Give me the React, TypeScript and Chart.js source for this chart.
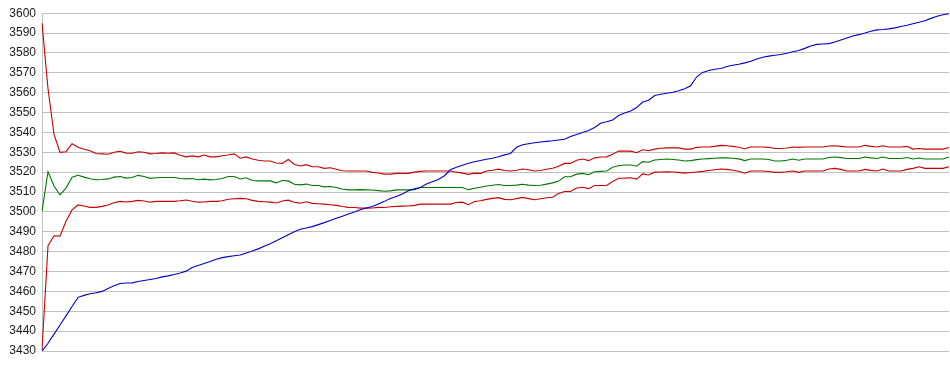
import React, { useEffect, useRef } from "react";
import { Chart, registerables } from "chart.js";

Chart.register(...registerables);

// Rising series (blue)
const risingLine: number[] = [
  3430, 3433.9, 3438.5, 3443.1, 3447.7, 3452.4, 3457, 3458, 3458.8, 3459.3,
  3460, 3461.5, 3462.8, 3464, 3464.2, 3464.3, 3465, 3465.5, 3466, 3466.5,
  3467.3, 3467.8, 3468.5, 3469.3, 3470.2, 3472, 3473, 3474, 3475, 3476.2,
  3477, 3477.5, 3477.9, 3478.3, 3479.3, 3480.3, 3481.4, 3482.7, 3484, 3485.5,
  3487, 3488.5, 3490, 3491.3, 3491.9, 3492.6, 3493.6, 3494.6, 3495.7, 3496.8,
  3497.8, 3499, 3500, 3501.1, 3502, 3502.7, 3504, 3505.3, 3506.8, 3507.8,
  3509, 3510.6, 3511.6, 3512.3, 3514, 3515.2, 3516.3, 3518.2, 3521.2, 3522.5,
  3523.5, 3524.5, 3525.2, 3525.9, 3526.5, 3527, 3527.8, 3528.7, 3529.4, 3532.5,
  3533.8, 3534.3, 3534.8, 3535.2, 3535.5, 3535.8, 3536.2, 3536.6, 3538, 3539,
  3540, 3541, 3542.5, 3544.6, 3545.4, 3546.3, 3548.5, 3549.8, 3550.8, 3552.5,
  3555.3, 3556.2, 3558.6, 3559.2, 3559.7, 3560.2, 3561, 3562, 3563.5, 3568,
  3570.2, 3571.2, 3571.8, 3572.2, 3573.2, 3573.8, 3574.3, 3575, 3575.8, 3577,
  3577.8, 3578.4, 3578.8, 3579.2, 3579.8, 3580.6, 3581.2, 3582.3, 3583.5, 3584.3,
  3584.5, 3584.7, 3585.5, 3586.5, 3587.5, 3588.5, 3589.2, 3590, 3590.9, 3591.6,
  3591.8, 3592.1, 3592.6, 3593.3, 3593.9, 3594.7, 3595.4, 3596.2, 3597.4, 3598.5,
  3599.2, 3599.8,
];

// Upper band (red)
const upperBand: number[] = [
  3595, 3562, 3539, 3530, 3530.3, 3534.3, 3532.5, 3531.5, 3530.8, 3529.4,
  3529.2, 3529, 3530, 3530.5, 3529.6, 3529.5, 3530.3, 3530, 3529.2, 3529.4,
  3529.7, 3529.5, 3529.7, 3528.5, 3527.7, 3528.2, 3527.7, 3528.6, 3527.7, 3527.7,
  3528.3, 3528.6, 3529.2, 3527, 3527.7, 3526.6, 3526, 3525.6, 3525.6, 3524.6,
  3524.4, 3526.4, 3524, 3523.1, 3523.8, 3522.7, 3522.7, 3521.9, 3522.2, 3521.5,
  3520.7, 3520.6, 3520.6, 3520.6, 3520.6, 3519.9, 3519.6, 3519, 3519, 3519.4,
  3519.4, 3519.4, 3520, 3520.4, 3520.6, 3520.6, 3520.6, 3520.6, 3520.6, 3520,
  3519.5, 3518.9, 3519.5, 3519.4, 3520.6, 3521, 3521.5, 3520.8, 3520.6, 3521,
  3521.6, 3521.2, 3520.6, 3520.8, 3521.5, 3522, 3523, 3524.4, 3524.4, 3526,
  3526.6, 3525.8, 3527.2, 3527.6, 3527.7, 3529, 3530.6, 3530.6, 3530.6, 3529.8,
  3531.3, 3530.8, 3531.6, 3532, 3532.2, 3532.2, 3532.2, 3531.6, 3531.6, 3532.5,
  3532.7, 3532.7, 3533, 3533.5, 3533.3, 3533, 3532.5, 3531.8, 3532.7, 3532.7,
  3532.7, 3532.5, 3531.9, 3531.9, 3532.2, 3532.7, 3532.5, 3532.7, 3532.7, 3532.7,
  3532.7, 3533.2, 3533.3, 3533, 3532.7, 3532.7, 3532.7, 3533.5, 3533, 3532.7,
  3533.3, 3532.7, 3532.7, 3532.7, 3533, 3531.6, 3531.9, 3531.6, 3531.6, 3531.6,
  3531.6, 3532.4,
];

// Middle line (green)
const middleLine: number[] = [
  3500.3, 3520.2, 3513, 3508.6, 3512, 3517.5, 3518.4, 3517.5, 3516.7, 3516.2,
  3516.3, 3516.6, 3517.5, 3517.8, 3517, 3517.3, 3518.4, 3517.8, 3516.9, 3517.2,
  3517.3, 3517.3, 3517.3, 3516.8, 3516.6, 3516.8, 3516.2, 3516.5, 3516.1, 3516.3,
  3516.8, 3517.8, 3517.8, 3516.6, 3517.2, 3515.8, 3515.6, 3515.6, 3515.6, 3514.6,
  3515.8, 3515.6, 3513.9, 3513.6, 3514, 3513.3, 3513.3, 3512.6, 3512.8, 3512.3,
  3511.5, 3511.1, 3511.1, 3511.2, 3511.1, 3511, 3510.7, 3510.4, 3510.6, 3511.1,
  3511.1, 3511.1, 3511.2, 3512.3, 3512.3, 3512.3, 3512.3, 3512.3, 3512.3, 3512.3,
  3512.3, 3511.2, 3511.9, 3512.4, 3513, 3513.4, 3513.8, 3513.3, 3513.3, 3513.5,
  3513.9, 3513.5, 3513.3, 3513.4, 3514, 3514.6, 3515.5, 3517.7, 3517.7, 3519,
  3519.4, 3518.7, 3520.2, 3520.4, 3520.6, 3522.5, 3523.2, 3523.6, 3523.6, 3523,
  3525.3, 3525, 3526.1, 3526.4, 3526.6, 3526.4, 3526.1, 3525.6, 3525.8, 3526.3,
  3526.6, 3526.8, 3527, 3527.2, 3527.2, 3527, 3526.7, 3525.8, 3526.6, 3526.6,
  3526.6, 3526.4, 3525.6, 3525.6, 3526, 3526.6, 3526, 3526.6, 3526.6, 3526.6,
  3526.6, 3527.4, 3527.6, 3527.3, 3526.9, 3526.9, 3526.9, 3527.6, 3527.2, 3526.9,
  3527.6, 3526.9, 3526.9, 3526.9, 3527.4, 3526.6, 3527.1, 3526.6, 3526.6, 3526.6,
  3526.6, 3527.6,
];

// Lower band (red)
const lowerBand: number[] = [
  3430.5, 3483, 3488, 3487.8, 3495.3, 3501, 3503.5, 3503, 3502.3, 3502.3,
  3502.8, 3503.5, 3504.6, 3505.3, 3505, 3505.3, 3505.8, 3505.5, 3504.9, 3505.3,
  3505.3, 3505.3, 3505.3, 3505.6, 3506, 3505.4, 3504.9, 3505, 3505.3, 3505.3,
  3505.6, 3506.4, 3506.6, 3506.8, 3506.6, 3505.8, 3505.3, 3505.1, 3504.9, 3504.5,
  3505.5, 3505.9, 3504.9, 3504.4, 3505.1, 3504.3, 3504.1, 3503.9, 3503.6, 3503.3,
  3502.7, 3502.3, 3502.2, 3501.9, 3501.9, 3502, 3502.3, 3502.2, 3502.6, 3502.8,
  3502.9, 3503, 3503.3, 3503.9, 3503.9, 3503.9, 3503.9, 3503.9, 3503.9, 3504.7,
  3504.9, 3503.6, 3505.2, 3505.6, 3506.3, 3506.8, 3507.2, 3506.3, 3506.1, 3506.7,
  3507.3, 3506.7, 3506.1, 3506.6, 3507.1, 3507.4, 3509.3, 3510.3, 3510.3, 3512,
  3512.4, 3511.7, 3513.3, 3513.3, 3513.3, 3515.3, 3516.9, 3517, 3517.2, 3516.5,
  3519.1, 3518.6, 3520, 3520.1, 3520.2, 3520.1, 3519.9, 3519.5, 3519.8, 3520.1,
  3520.4, 3520.8, 3521.2, 3521.6, 3521.4, 3521, 3520.5, 3519.5, 3520.6, 3520.6,
  3520.6, 3520.3, 3519.9, 3519.9, 3520.2, 3520.6, 3519.9, 3520.6, 3520.6, 3520.6,
  3520.6, 3521.6, 3521.9, 3521.4, 3520.6, 3520.6, 3520.6, 3521.4, 3520.9, 3520.6,
  3521.6, 3520.6, 3520.6, 3520.6, 3521.4, 3521.9, 3522.7, 3521.9, 3521.9, 3521.9,
  3521.9, 3522.7,
];

// Categories: sample number along the x axis (no labels shown)
const sampleLabels: string[] = risingLine.map((_, i) => String(i + 1));

const Y_MIN = 3430;
const Y_MAX = 3600;
const Y_STEP = 10;

export default function App() {
  const canvasRef = useRef<HTMLCanvasElement | null>(null);

  useEffect(() => {
    if (!canvasRef.current) return;
    const common = { borderWidth: 1.1, pointRadius: 0, pointHoverRadius: 0, tension: 0, fill: false };
    const chart = new Chart(canvasRef.current, {
      type: "line",
      data: {
        labels: sampleLabels,
        datasets: [
          { label: "rising", data: risingLine, borderColor: "#0000c8", ...common },
          { label: "upper", data: upperBand, borderColor: "#c80000", ...common },
          { label: "middle", data: middleLine, borderColor: "#007800", ...common },
          { label: "lower", data: lowerBand, borderColor: "#c80000", ...common },
        ],
      },
      options: {
        responsive: false,
        animation: false,
        devicePixelRatio: 1,
        layout: { padding: { left: 0, right: 1, top: 10, bottom: 24 } },
        plugins: { legend: { display: false }, tooltip: { enabled: false } },
        scales: {
          x: { display: false },
          y: {
            min: Y_MIN,
            max: Y_MAX,
            afterFit: (s: any) => {
              s.width = 42;
            },
            ticks: {
              stepSize: Y_STEP,
              padding: 6,
              color: "#1a1a1a",
              font: { family: "'Liberation Sans', Arial, sans-serif", size: 12 },
              callback: (v: any) => String(v),
            },
            grid: { color: "#c0c0c0", lineWidth: 1, drawTicks: false },
            border: { display: true, color: "#c0c0c0", width: 1 },
          },
        },
      },
    });
    return () => chart.destroy();
  }, []);

  return (
    <div style={{ position: "absolute", left: 0, top: 0, width: 950, height: 375, background: "#fff" }}>
      <canvas ref={canvasRef} width={950} height={375} style={{ display: "block" }} />
    </div>
  );
}
